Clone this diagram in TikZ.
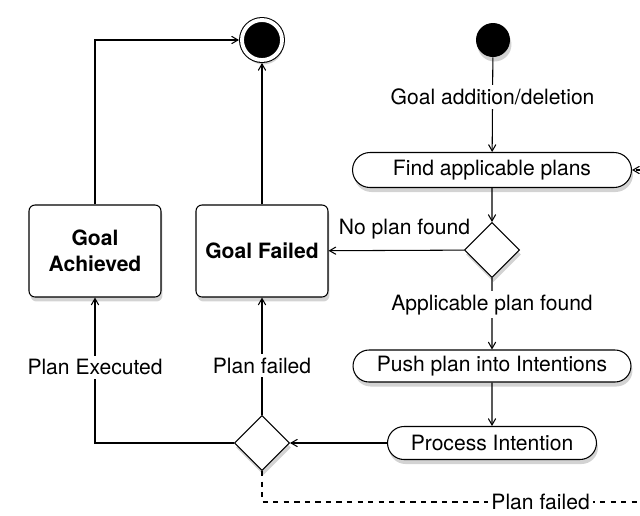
\documentclass[tikz,border=0pt]{standalone}
\usepackage{fontspec}
\setmainfont{TeX Gyre Heros}
\usetikzlibrary{arrows}
\usetikzlibrary{shapes.geometric}
\usetikzlibrary{shapes.misc}
\usetikzlibrary{shadows}

\begin{document}
\begin{tikzpicture}[x=0.02cm, y=-0.02cm, font=\fontsize{12}{15}\selectfont]
	\tikzset{shadowed/.style = {drop shadow={opacity=0.35, shadow xshift=0.03cm, shadow yshift=-0.09cm}}}
	\tikzset{activity/.style = {shape=rounded rectangle, draw, fill=white, shadowed, line width=0.6pt, inner sep=0pt}}
	\tikzset{goal/.style = {shape=rectangle, rounded corners=0.12cm, draw, fill=white, shadowed, line width=0.6pt, font=\fontsize{12}{15}\selectfont\bfseries, align=center, minimum width=2.64cm, minimum height=1.84cm}}
	\tikzset{choice/.style = {shape=diamond, draw, fill=white, shadowed, line width=0.6pt, minimum size=1.1cm, inner sep=0pt}}
	\tikzset{edge/.style = {->, > = angle 60, line width=0.6pt}}
	\tikzset{lbl/.style = {fill=white, inner sep=2pt}}
	\useasboundingbox (0,0) rectangle (640,515);
	% vertices
	\node[shape=circle, fill=black, minimum size=0.68cm, inner sep=0pt, shadowed] (start) at (493, 40) {};
	\node[shape=circle, draw, fill=black, double=white, double distance=2.2pt, line width=0.6pt, minimum size=0.8cm, inner sep=0pt, outer sep=1.7pt, shadowed] (end) at (262, 40) {};
	\node[activity, minimum width=5.58cm, minimum height=0.7cm] (find) at (492, 170) {Find applicable plans};
	\node[choice] (dec1) at (492, 250) {};
	\node[goal] (failed) at (262, 251) {Goal Failed};
	\node[goal] (achieved) at (95, 251) {Goal\\Achieved};
	\node[activity, minimum width=5.56cm, minimum height=0.64cm] (push) at (492, 366) {Push plan into Intentions};
	\node[activity, minimum width=4.18cm, minimum height=0.66cm] (process) at (492, 443) {Process Intention};
	\node[choice] (dec2) at (262, 443) {};
	\coordinate (loop) at (660, 502);
	% edges
	\draw[edge] (start) -- node[lbl, pos=0.42] {Goal addition/deletion} (find);
	\draw[edge] (find) -- (dec1);
	\draw[edge] (dec1) -- node[above=3pt, pos=0.44] {No plan found} (failed);
	\draw[edge] (dec1) -- node[lbl, pos=0.375] {Applicable plan found} (push);
	\draw[edge] (push) -- (process);
	\draw[edge] (process) -- (dec2);
	\draw[edge] (dec2) -- node[lbl, pos=0.42] {Plan failed} (failed);
	\draw[edge] (dec2) -| node[lbl, pos=0.76] {Plan Executed} (achieved);
	\draw[edge] (achieved) |- (end);
	\draw[edge] (failed) -- (end);
	\draw[edge, dashed] (dec2) |- node[lbl, pos=0.85] {Plan failed} (loop) |- (find);
\end{tikzpicture}
\end{document}
